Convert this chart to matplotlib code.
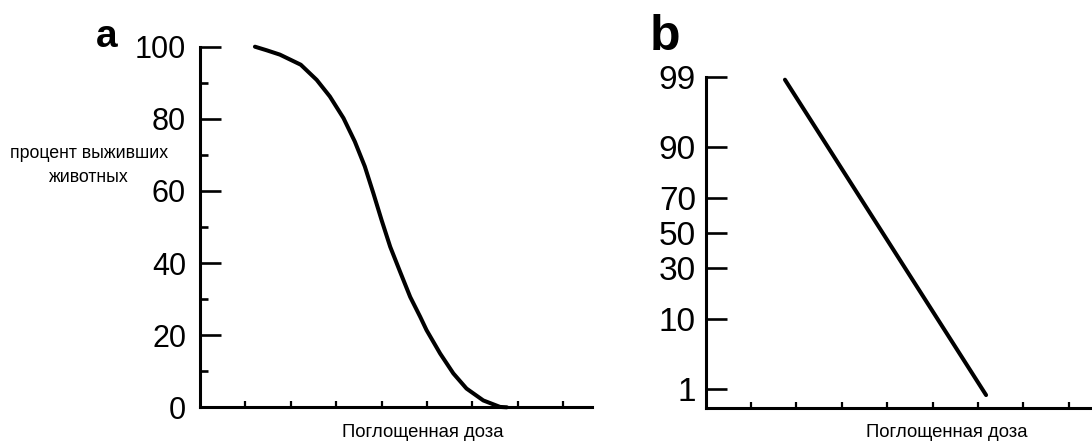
from matplotlib import pyplot as plt
from statistics import NormalDist
import numpy as np


# --- data ----------------------------------------------------------------------
# panel a: survival (%) vs absorbed dose (dose in tick units)
dose_a = [1.21, 1.47, 1.76, 2.22, 2.57, 2.86, 3.16, 3.41, 3.63, 3.82, 4.00,
          4.19, 4.41, 4.63, 4.85, 4.99, 5.29, 5.58, 5.87, 6.24, 6.61, 6.76]
surv_a = [100.0, 99.0, 97.8, 95.0, 90.8, 86.2, 80.2, 73.7, 66.8, 59.3, 51.9,
          44.5, 37.5, 30.6, 25.1, 21.4, 14.9, 9.4, 5.2, 1.9, 0.1, 0.0]
yticks_a = [0, 20, 40, 60, 80, 100]
yminor_a = [10, 30, 50, 70, 90]

# panel b: same on a probit axis -> straight line
dose_b = [1.75, 6.18]
surv_b = [98.9, 0.78]
yticks_b = [1, 10, 30, 50, 70, 90, 99]

xticks = [1, 2, 3, 4, 5, 6, 7, 8]
ylabel_lines = ["процент выживших", "животных"]
xlabel = "Поглощенная доза"

W, H = 1092, 445
plt.rcParams['font.family'] = ['Liberation Sans', 'DejaVu Sans']

_nd = NormalDist()
_ppf = np.vectorize(lambda v: _nd.inv_cdf(v / 100.0), otypes=[float])
_cdf = np.vectorize(lambda v: 100.0 * _nd.cdf(v), otypes=[float])


def probit(p):
    p = np.clip(np.asarray(p, dtype=float), 1e-6, 100 - 1e-6)
    return _ppf(p)


def unprobit(z):
    return _cdf(np.asarray(z, dtype=float))


def px(x0, y0, w, h):
    # pixel box (from top-left) -> figure fractions
    return [x0 / W, 1 - (y0 + h) / H, w / W, h / H]


def style(ax, xmax, tick_size, pad):
    for s in ('top', 'right'):
        ax.spines[s].set_visible(False)
    for s in ('left', 'bottom'):
        ax.spines[s].set_linewidth(2.2)
    ax.set_xlim(0, xmax)
    ax.set_xticks(xticks)
    ax.set_xticklabels([])
    ax.tick_params(axis='x', direction='in', length=4.5, width=1.6)
    ax.tick_params(axis='y', which='major', direction='in', length=15,
                   width=1.9, pad=pad, labelsize=tick_size)


fig = plt.figure(figsize=(W / 100, H / 100), dpi=100)

# --- panel a -------------------------------------------------------------------
ax1 = fig.add_axes(px(200, 46.7, 392, 360.6))
ax1.plot(dose_a, surv_a, color='black', linewidth=2.9,
         solid_capstyle='round', solid_joinstyle='round', clip_on=False)
ax1.set_ylim(0, 100)
ax1.set_yticks(yticks_a)
ax1.set_yticks(yminor_a, minor=True)
style(ax1, 392 / 45.4, 22, 10)
ax1.tick_params(axis='y', which='minor', direction='in', length=5.5, width=1.9)

# --- panel b -------------------------------------------------------------------
ax2 = fig.add_axes(px(705.5, 77.3, 386.5, 330.2))
ax2.set_yscale('function', functions=(probit, unprobit))
ax2.plot(dose_b, surv_b, color='black', linewidth=2.9,
         solid_capstyle='round', clip_on=False)
ax2.set_ylim(0.461, 99)
ax2.set_yticks(yticks_b)
ax2.set_yticklabels([str(v) for v in yticks_b])
ax2.yaxis.set_minor_locator(plt.NullLocator())
style(ax2, 386.5 / 45.4, 24, 7)

# --- texts ---------------------------------------------------------------------
fig.text(96 / W, 1 - 47.3 / H, 'a', fontsize=28, fontweight='bold',
         ha='left', va='baseline')
fig.text(650 / W, 1 - 50 / H, 'b', fontsize=36, fontweight='bold',
         ha='left', va='baseline')
# two-line y label of panel a, kept as two texts so they sit clear of the ticks
fig.text(89 / W, 1 - 158 / H, ylabel_lines[0], fontsize=12.8,
         ha='center', va='baseline')
fig.text(89 / W, 1 - 182 / H, ylabel_lines[1], fontsize=12.8,
         ha='center', va='baseline')
fig.text(423 / W, 1 - 437 / H, xlabel, fontsize=13.3,
         ha='center', va='baseline')
fig.text(947 / W, 1 - 437 / H, xlabel, fontsize=13.3,
         ha='center', va='baseline')

fig.savefig('out.png', dpi=100)
